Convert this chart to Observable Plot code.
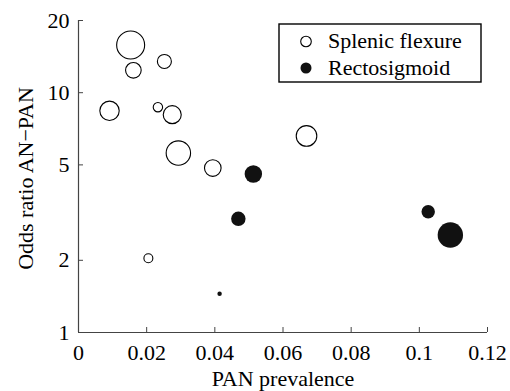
<!DOCTYPE html>
<html><head><meta charset="utf-8">
<script src="https://cdn.jsdelivr.net/npm/d3@7"></script>
<script src="https://cdn.jsdelivr.net/npm/@observablehq/plot@0.6"></script>
<style>
body{margin:0;background:#fff;}
#wrap{position:relative;width:510px;height:391px;font-family:"Liberation Serif","Times New Roman",serif;}
#legend{position:absolute;left:278px;top:23px;}
</style></head><body><div id="wrap"></div>
<script>
// Splenic flexure (open circles)
const splenicPrev   = [0.0153, 0.0161, 0.0252, 0.0091, 0.0233, 0.0275, 0.0293, 0.0394, 0.0669, 0.0205];
const splenicOR     = [15.8, 12.4, 13.5, 8.4, 8.7, 8.1, 5.6, 4.85, 6.6, 2.04];
const splenicWeight = [196, 61, 49, 94, 22, 81, 149, 69, 106, 20];
// Rectosigmoid (filled circles)
const rectoPrev   = [0.0513, 0.0469, 0.0414, 0.1026, 0.1091];
const rectoOR     = [4.58, 2.98, 1.45, 3.19, 2.55];
const rectoWeight = [76, 52, 5, 45, 161];

const seriesNames = ["Splenic flexure", "Rectosigmoid"];
const xTicks = [0, 0.02, 0.04, 0.06, 0.08, 0.1, 0.12];
const xTickLabels = ["0", "0.02", "0.04", "0.06", "0.08", "0.1", "0.12"];
const yTicks = [1, 2, 5, 10, 20];
const yTickLabels = ["1", "2", "5", "10", "20"];
const xTitle = "PAN prevalence";
const yTitle = "Odds ratio AN\u2212PAN";

const splenic = splenicPrev.map((p, i) => ({prev: p, or: splenicOR[i], w: splenicWeight[i]}));
const recto = rectoPrev.map((p, i) => ({prev: p, or: rectoOR[i], w: rectoWeight[i]}));

const font = '"Liberation Serif","Times New Roman",serif';
const axisColor = "#444";

const plot = Plot.plot({
  width: 510, height: 391,
  marginTop: 20, marginRight: 23, marginBottom: 59, marginLeft: 78,
  style: {fontFamily: font, fontSize: "22px", color: "#000", background: "#fff"},
  x: {domain: [0, 0.12]},
  y: {type: "log", domain: [1, 20]},
  r: {type: "sqrt", domain: [0, 196], range: [0, 14]},
  marks: [
    Plot.ruleY([1], {stroke: axisColor, strokeWidth: 1.2}),
    Plot.ruleX([0], {stroke: axisColor, strokeWidth: 1.2}),
    Plot.axisX(xTicks, {tickSize: -5, tickPadding: 16.5, stroke: axisColor, fill: "#000",
      tickFormat: (d) => xTickLabels[xTicks.indexOf(d)], label: null, fontFamily: font}),
    Plot.axisY(yTicks, {tickSize: -5, tickPadding: 14, stroke: axisColor, fill: "#000",
      tickFormat: (d) => yTickLabels[yTicks.indexOf(d)], label: null, fontFamily: font}),
    Plot.text([xTitle], {frameAnchor: "bottom", dy: 46, lineAnchor: "middle", textAnchor: "middle", fontSize: 22, fontFamily: font, fill: "#000"}),
    Plot.text([yTitle], {frameAnchor: "left", dx: -53, dy: 2, rotate: -90, lineAnchor: "middle", textAnchor: "middle", fontSize: 22, fontFamily: font, fill: "#000"}),
    Plot.dot(splenic, {x: "prev", y: "or", r: "w", fill: "white", stroke: "#000", strokeWidth: 1.1}),
    Plot.dot(recto, {x: "prev", y: "or", r: "w", fill: "#111", stroke: "none"})
  ]
});
const wrap = document.getElementById("wrap");
wrap.appendChild(plot);

// legend
const ns = "http://www.w3.org/2000/svg";
const lg = document.createElementNS(ns, "svg");
lg.setAttribute("id", "legend");
lg.setAttribute("width", 205); lg.setAttribute("height", 61);
lg.innerHTML = `<rect x="1" y="1" width="202" height="58" fill="#fff" stroke="#000" stroke-width="1.4"/>
<circle cx="28" cy="18.5" r="5.3" fill="#fff" stroke="#000" stroke-width="1.1"/>
<circle cx="28" cy="45" r="5.5" fill="#111"/>
<text x="50" y="25" font-family='${font}' font-size="22">${seriesNames[0]}</text>
<text x="50" y="52" font-family='${font}' font-size="22">${seriesNames[1]}</text>`;
wrap.appendChild(lg);
</script>
</body></html>
